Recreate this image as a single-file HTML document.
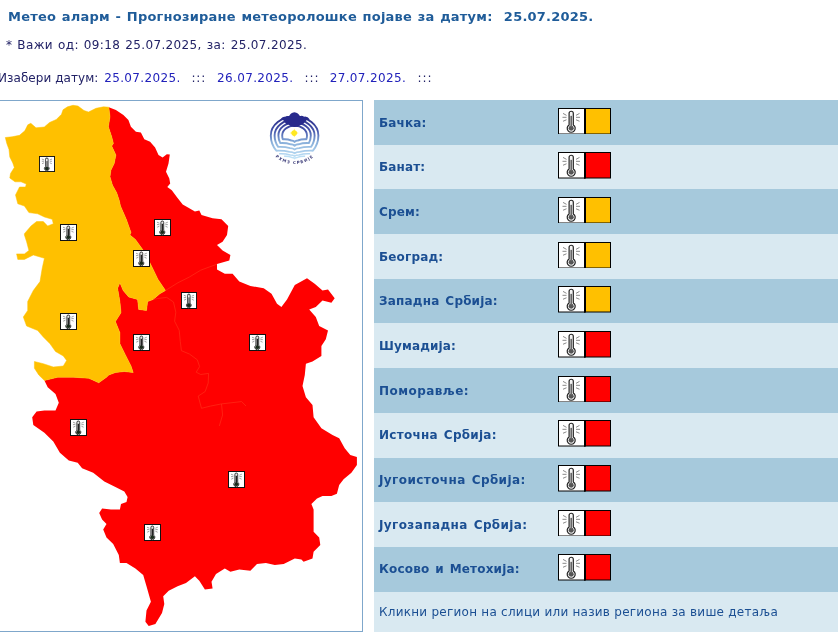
<!DOCTYPE html>
<html lang="sr"><head><meta charset="utf-8"><title>Метео аларм</title>
<style>
html,body{margin:0;padding:0;background:#fff;}
body{width:838px;height:633px;overflow:hidden;position:relative;font-family:"DejaVu Sans","Liberation Sans",sans-serif;font-size:12px;color:#222266;}
.t{position:absolute;white-space:nowrap;line-height:16px;}
#title{left:8px;top:9px;font-size:13px;font-weight:bold;color:#1f5c99;letter-spacing:0.22px;word-spacing:0.9px;}
#valid{left:6px;top:37px;letter-spacing:0.37px;word-spacing:0.8px;}
#pick{left:0;top:70px;}
#pick span,#pick a{position:absolute;top:0;}
#pick a{color:#2222bb;text-decoration:none;}
#mapbox{position:absolute;left:-10px;top:100px;width:373px;height:532px;border:1px solid #7fa7cb;box-sizing:border-box;background:#fff;}
#map{position:absolute;left:0;top:0;}
.th{position:absolute;}
#tbl{position:absolute;left:374px;top:100px;width:480px;}
.row{position:relative;height:44.7px;}
.row.d{background:#a6c9dc;}
.row.l{background:#d9e9f1;}
.row span{position:absolute;left:5px;top:14.6px;letter-spacing:0.15px;word-spacing:1.5px;line-height:16px;font-weight:bold;color:#1b4f93;white-space:nowrap;font-size:12px;}
.row .lg{position:absolute;left:184px;top:7.6px;height:26.5px;}
#foot{position:relative;height:40px;background:#d9e9f1;}
#foot span{position:absolute;left:5px;top:12.5px;letter-spacing:0.25px;line-height:16px;color:#1b4f93;white-space:nowrap;}
</style></head><body>
<div id="title" class="t">Метео аларм - Прогнозиране метеоролошке појаве за датум:&nbsp; 25.07.2025.</div>
<div id="valid" class="t">* Важи од: 09:18 25.07.2025, за: 25.07.2025.</div>
<div id="pick" class="t"><span style="left:-2px;letter-spacing:0.07px">Изабери датум:</span><a style="left:104.2px;letter-spacing:0.36px">25.07.2025.</a><span style="left:191.4px;letter-spacing:0.9px">:::</span><a style="left:217px;letter-spacing:0.36px">26.07.2025.</a><span style="left:304.6px;letter-spacing:0.9px">:::</span><a style="left:329.7px;letter-spacing:0.36px">27.07.2025.</a><span style="left:417.6px;letter-spacing:0.9px">:::</span></div>
<div id="mapbox"></div>
<svg id="map" width="372" height="633" viewBox="0 0 372 633">
<polygon points="108.8,107.2 115.9,110 123.4,115 128.4,120 130.9,126.700 135.900,131.700 140.900,132.600 144.300,139.300 150.100,141.800 155.100,147.600 158.500,155.100 162.600,157.600 166.800,154.300 169.800,154.600 168.500,163.500 166,171.800 169.300,178.500 170.200,183.500 167.300,186.900 171.800,190.200 176.800,196.900 182.700,204.400 188,207.500 194.9,211.5 199.3,210.4 201.5,214.9 212.6,218.2 221.5,219.3 228.2,226 227,235 222.6,241.7 217,245 222.6,250.5 230.4,255 229.3,260.5 217,263.9 217,269.4 224.8,273.8 232.6,273.8 239.3,281.6 250.4,286 263.7,288.3 271.5,293.8 277,303.8 281.4,307 287,299.4 294.8,285 307,278.3 314.7,283.8 322.5,290.5 328,289.4 334.7,298.3 331.4,302.7 322.5,300.5 315.8,307 309.2,309.4 315.8,317 319.2,326 328,330.5 325.8,339.3 321.4,346 321.4,356 312.5,361.5 305.9,363.7 304.8,375 302.5,386 305.9,397.2 312.5,405 313.6,417.2 321.4,428.3 332.5,435 339.2,438.3 344.7,448.3 350.3,455 356.9,457 356.9,465 351.4,472.7 343.6,479.3 339.2,485 336.9,493.8 331.4,496 322.5,496 317,498.5 311.4,504 313.6,509.6 313.6,531.8 319.2,537.4 320.3,545 313.6,551.8 312.5,558.5 303.6,561.8 301.4,559.6 294.8,558.5 283.7,564 274.8,565 265.9,563 257,564 250.4,570.7 239.3,569.6 230.4,571.8 224.8,568.5 216,574 211.5,581.8 212.6,588.5 204.9,589.6 199.3,580.7 194.9,576.2 186,583 177.6,586.2 168.7,590.7 163.2,596.2 164.3,604 162,612.9 155.4,624 148.7,626 145.4,621.7 146.5,610.6 150.9,601.8 146.5,586.2 143.2,575 135.4,568.5 126.5,562.9 119.9,562.9 118.8,555 113.2,544 106.5,537.4 103.2,529.6 106.5,524 102.1,519.6 99.2,513 102.1,508.5 111,509.6 119.9,509.6 121,504 126.5,501.9 127.6,497 124.3,491.5 115.4,487 104.3,481.5 93.2,472.7 82.1,468.2 77.7,462.7 68.8,460.5 59.9,452.7 53.3,441.6 44.4,432.7 33.3,425 32.2,417.2 36.6,411.6 44.4,410.5 55.5,410.5 58.8,402.7 55.5,393.9 47.7,387.2 44.4,380.5 57.7,377.2 73.3,377.2 88.8,378.3 98.8,382.8 106.5,377.2 108.8,375 115.4,372.6 124.3,371.5 133.2,372.6 131,366 125.4,354.9 119.9,343.8 119.9,332.7 115.4,321.6 121,312.7 119.9,301.6 117.6,288.3 119.9,282.7 123.2,290.5 128.7,297 137.6,299.4 138.7,309.4 146.5,310.5 147.6,301.6 153.2,299.4 159.8,293.8 165.5,290.5 158,279.4 151.5,266 144.5,252 135.4,239.4 129.9,235 131,232.5 126.3,219.3 120.500,206 119.200,200.200 116.700,192.700 112.500,185.200 110,176.800 110.900,170.200 114.200,163.500 115.900,155.100 111.700,146 113.400,143.400 111.700,136.800 108.400,126.700 110,116.700" fill="#FF0000"/>
<polygon points="108.8,107.2 103.5,106.8 96,108.3 88.5,112 84,110.5 78,106 73,105.3 67.5,106.8 63,109.8 61.5,114.3 56.3,119.5 49.5,122.5 44.3,127 36,127.8 30.8,123.3 27.8,124.8 24.8,130.8 19.5,135.3 12,136.8 5.3,137.5 6.8,143.5 9,149.5 9.8,157 12.8,163 14.3,167.5 10.5,173.5 9.8,178 15,181.8 21,181.8 26.3,184 25.5,187 19.5,187 16.5,193 15.5,195 17.8,203.8 24.4,206 28.9,212.6 37.7,213.8 44.4,217 52.2,219.3 53.3,223.7 47.7,226 43.3,221.5 36.6,221.5 31,226 24.4,233.7 24.4,235 26.6,241.7 28.9,250.5 24.4,253.9 16.6,253.9 17.8,259.4 24.4,259.4 33.3,255 44.4,258.3 42.2,268.3 40,281.6 33.3,290.5 27.7,301.6 27.7,310.5 23.3,317 26.6,326 37.7,330.5 43.3,337 50,343.8 55.5,351.5 63.3,356 66.6,360.4 63.3,366 53.3,367 43.3,363.7 34.4,361.5 34.4,368.2 38.8,375 44.4,380.5 57.7,377.2 73.3,377.2 88.8,378.3 98.8,382.8 106.5,377.2 108.8,375 115.4,372.6 124.3,371.5 133.2,372.6 131,366 125.4,354.9 119.9,343.8 119.9,332.7 115.4,321.6 121,312.7 119.9,301.6 117.6,288.3 119.9,282.7 123.2,290.5 128.7,297 137.6,299.4 138.7,309.4 146.5,310.5 147.6,301.6 153.2,299.4 159.8,293.8 165.5,290.5 158,279.4 151.5,266 144.5,252 135.4,239.4 129.9,235 131,232.5 126.3,219.3 120.500,206 119.200,200.200 116.700,192.700 112.500,185.200 110,176.800 110.900,170.200 114.200,163.500 115.900,155.100 111.700,146 113.400,143.400 111.700,136.800 108.400,126.700 110,116.700" fill="#FFC000" stroke="#FFC000" stroke-width="0.5"/>
<g fill="none" stroke="#ff2e18" stroke-width="0.7" stroke-linejoin="round">
<polyline points="165.500,290.500 178,282.700 189.400,277 200.700,270.200 209.800,266.800 217,264.200"/>
<polyline points="153.200,299.400 157.600,298.500 166.700,297.400 173.500,302 175.800,312.200 174.600,321.200 179.200,330.300 180.300,341.600 181.400,350.700 189.400,354 197.300,359.800 199.600,366.600 196.200,372.200 200.700,374.500 208.600,373.400 208.200,383 205.200,391.500 198.200,396.100 201.500,408.300 210.400,406.100 221.500,403.900 222.600,415 219.300,426"/>
<polyline points="221.500,403.900 241.500,401.600 246,406"/>
</g>
<defs><linearGradient id="lg1" gradientUnits="userSpaceOnUse" x1="0" y1="114" x2="0" y2="159"><stop offset="0" stop-color="#24247f"/><stop offset="0.35" stop-color="#4250a8"/><stop offset="0.62" stop-color="#86add9"/><stop offset="1" stop-color="#c4e6f9"/></linearGradient>
<path id="tp" d="M274.03 155.37 A28.6 28.6 0 0 0 315.17 155.37" fill="none"/></defs>
<g fill="none" stroke="url(#lg1)" stroke-width="1.900" stroke-linejoin="round">
<path d="M276.29 150.70 A23.8 23.8 0 0 1 270.80 135.50 A23.8 19.04 0 0 1 318.40 135.50 A23.8 23.8 0 0 1 312.91 150.70 Q305.59 150.40 299.73 151.90 Q296.43 151.90 294.60 153.30 Q292.77 151.90 289.47 151.90 Q283.61 150.40 276.29 150.70Z"/><path d="M278.17 146.90 A20.0 20.0 0 0 1 274.60 135.50 A20.0 16.00 0 0 1 314.60 135.50 A20.0 20.0 0 0 1 311.03 146.90 Q304.46 146.60 299.20 148.10 Q296.24 148.10 294.60 149.50 Q292.96 148.10 290.00 148.10 Q284.74 146.60 278.17 146.90Z"/><path d="M280.29 143.10 A16.2 16.2 0 0 1 278.40 135.50 A16.2 12.96 0 0 1 310.80 135.50 A16.2 16.2 0 0 1 308.91 143.10 Q303.18 142.80 298.61 144.30 Q296.03 144.30 294.60 145.70 Q293.17 144.30 290.59 144.30 Q286.02 142.80 280.29 143.10Z"/><path d="M282.80 139.30 A12.4 12.4 0 0 1 282.20 135.50 A12.4 9.92 0 0 1 307.00 135.50 A12.4 12.4 0 0 1 306.40 139.30 Q301.68 139.00 297.90 140.50 Q295.78 140.50 294.60 141.90 Q293.42 140.50 291.30 140.50 Q287.52 139.00 282.80 139.30Z"/>
<g stroke-width="1.500"><path d="M279.10 153.80 Q285.30 153.50 290.26 155.00 Q293.05 155.00 294.60 156.20 Q296.15 155.00 298.94 155.00 Q303.90 153.50 310.10 153.80"/><path d="M284.10 156.20 Q288.30 155.90 291.66 157.40 Q293.55 157.40 294.60 158.60 Q295.65 157.40 297.54 157.40 Q300.90 155.90 305.10 156.20"/></g></g>
<path d="M280.800 119.200 Q282 116.200 285.200 116.800 Q287 115.400 289.200 116.200 Q290.300 112.900 294.400 112.200 Q298.600 112.900 299.800 116.200 Q302 115.300 304 116.700 Q307.500 116 309.800 119.400 Q306.500 119.200 305.200 121.600 Q303.800 124.600 300.200 125.200 Q297.500 127.300 293.800 127 Q290.500 126.700 288.500 124.600 Q285.500 124 284.300 121.400 Q283.200 119.200 280.800 119.200Z" fill="#282a8c"/>
<g fill="#ffe822"><circle cx="294.200" cy="133.100" r="2.800"/><path d="M294.200 128.600 L295.200 132.100 L298.700 133.100 L295.200 134.100 L294.200 137.600 L293.200 134.100 L289.700 133.100 L293.200 132.100Z"/></g>
<text font-family="'DejaVu Sans','Liberation Sans',sans-serif" font-size="4" font-weight="bold" fill="#3b3b78" letter-spacing="1"><textPath href="#tp" startOffset="50%" text-anchor="middle">РХМЗ СРБИЈЕ</textPath></text>
</svg>
<svg class="th" style="left:39px;top:156px" viewBox="0 0 17 17" width="16" height="16" preserveAspectRatio="none"><rect x="0.5" y="0.5" width="16" height="16" fill="#fff" stroke="#111"/><path d="M6.900 3.400a1.400 1.400 0 0 1 2.800 0V11.200a2.500 2.500 0 1 1-2.800 0Z" fill="#8a8a8a" stroke="#444" stroke-width="0.9"/><rect x="7.600" y="3.200" width="1.400" height="2.200" fill="#fff"/><circle cx="8.300" cy="13.200" r="1.900" fill="#1a2a1a"/><g stroke="#8a8a8a" stroke-width="0.8" fill="none"><path d="M3 3.200l2.400 1M3 5.600h2.400M3.200 8.200l2.200-1M13.800 3.200l-2.400 1M13.800 5.600h-2.400M13.600 8.200l-2.200-1"/></g></svg>
<svg class="th" style="left:60px;top:224px" viewBox="0 0 17 17" width="17" height="17"><rect x="0.5" y="0.5" width="16" height="16" fill="#fff" stroke="#111"/><path d="M6.900 3.400a1.400 1.400 0 0 1 2.800 0V11.200a2.500 2.500 0 1 1-2.800 0Z" fill="#e8e8e8" stroke="#222" stroke-width="0.9"/><rect x="7.700" y="4.800" width="1.300" height="7.500" fill="#222"/><circle cx="8.300" cy="13.200" r="1.900" fill="#1a2a1a"/><g stroke="#8a8a8a" stroke-width="0.8" fill="none"><path d="M3 3.200l2.400 1M3 5.600h2.400M3.200 8.200l2.200-1M13.800 3.200l-2.400 1M13.800 5.600h-2.400M13.600 8.200l-2.200-1"/></g></svg>
<svg class="th" style="left:133px;top:250px" viewBox="0 0 17 17" width="17" height="17"><rect x="0.5" y="0.5" width="16" height="16" fill="#fff" stroke="#111"/><path d="M6.900 3.400a1.400 1.400 0 0 1 2.800 0V11.200a2.500 2.500 0 1 1-2.800 0Z" fill="#e8e8e8" stroke="#222" stroke-width="0.9"/><rect x="7.700" y="4.800" width="1.300" height="7.500" fill="#222"/><circle cx="8.300" cy="13.200" r="1.900" fill="#1a2a1a"/><g stroke="#8a8a8a" stroke-width="0.8" fill="none"><path d="M3 3.200l2.400 1M3 5.600h2.400M3.200 8.200l2.200-1M13.800 3.200l-2.400 1M13.800 5.600h-2.400M13.600 8.200l-2.200-1"/></g></svg>
<svg class="th" style="left:154px;top:219px" viewBox="0 0 17 17" width="17" height="17"><rect x="0.5" y="0.5" width="16" height="16" fill="#fff" stroke="#111"/><path d="M6.900 3.400a1.400 1.400 0 0 1 2.800 0V11.200a2.500 2.500 0 1 1-2.800 0Z" fill="#e8e8e8" stroke="#222" stroke-width="0.9"/><rect x="7.700" y="4.800" width="1.300" height="7.500" fill="#222"/><circle cx="8.300" cy="13.200" r="1.900" fill="#1a2a1a"/><g stroke="#8a8a8a" stroke-width="0.8" fill="none"><path d="M3 3.200l2.400 1M3 5.600h2.400M3.200 8.200l2.200-1M13.800 3.200l-2.400 1M13.800 5.600h-2.400M13.600 8.200l-2.200-1"/></g></svg>
<svg class="th" style="left:181px;top:292px" viewBox="0 0 17 17" width="16" height="17" preserveAspectRatio="none"><rect x="0.5" y="0.5" width="16" height="16" fill="#fff" stroke="#111"/><path d="M6.900 3.400a1.400 1.400 0 0 1 2.800 0V11.200a2.500 2.500 0 1 1-2.800 0Z" fill="#8a8a8a" stroke="#444" stroke-width="0.9"/><rect x="7.600" y="3.200" width="1.400" height="2.200" fill="#fff"/><circle cx="8.300" cy="13.200" r="1.900" fill="#1a2a1a"/><g stroke="#8a8a8a" stroke-width="0.8" fill="none"><path d="M3 3.200l2.400 1M3 5.600h2.400M3.200 8.200l2.200-1M13.800 3.200l-2.400 1M13.800 5.600h-2.400M13.600 8.200l-2.200-1"/></g></svg>
<svg class="th" style="left:60px;top:313px" viewBox="0 0 17 17" width="17" height="17"><rect x="0.5" y="0.5" width="16" height="16" fill="#fff" stroke="#111"/><path d="M6.900 3.400a1.400 1.400 0 0 1 2.800 0V11.200a2.500 2.500 0 1 1-2.800 0Z" fill="#e8e8e8" stroke="#222" stroke-width="0.9"/><rect x="7.700" y="4.800" width="1.300" height="7.500" fill="#222"/><circle cx="8.300" cy="13.200" r="1.900" fill="#1a2a1a"/><g stroke="#8a8a8a" stroke-width="0.8" fill="none"><path d="M3 3.200l2.400 1M3 5.600h2.400M3.200 8.200l2.200-1M13.800 3.200l-2.400 1M13.800 5.600h-2.400M13.600 8.200l-2.200-1"/></g></svg>
<svg class="th" style="left:133px;top:334px" viewBox="0 0 17 17" width="17" height="17"><rect x="0.5" y="0.5" width="16" height="16" fill="#fff" stroke="#111"/><path d="M6.900 3.400a1.400 1.400 0 0 1 2.800 0V11.200a2.500 2.500 0 1 1-2.800 0Z" fill="#e8e8e8" stroke="#222" stroke-width="0.9"/><rect x="7.700" y="4.800" width="1.300" height="7.500" fill="#222"/><circle cx="8.300" cy="13.200" r="1.900" fill="#1a2a1a"/><g stroke="#8a8a8a" stroke-width="0.8" fill="none"><path d="M3 3.200l2.400 1M3 5.600h2.400M3.200 8.200l2.200-1M13.800 3.200l-2.400 1M13.800 5.600h-2.400M13.600 8.200l-2.200-1"/></g></svg>
<svg class="th" style="left:249px;top:334px" viewBox="0 0 17 17" width="17" height="17"><rect x="0.5" y="0.5" width="16" height="16" fill="#fff" stroke="#111"/><path d="M6.900 3.400a1.400 1.400 0 0 1 2.800 0V11.200a2.500 2.500 0 1 1-2.800 0Z" fill="#e8e8e8" stroke="#222" stroke-width="0.9"/><rect x="7.700" y="4.800" width="1.300" height="7.500" fill="#222"/><circle cx="8.300" cy="13.200" r="1.900" fill="#1a2a1a"/><g stroke="#8a8a8a" stroke-width="0.8" fill="none"><path d="M3 3.200l2.400 1M3 5.600h2.400M3.200 8.200l2.200-1M13.800 3.200l-2.400 1M13.800 5.600h-2.400M13.600 8.200l-2.200-1"/></g></svg>
<svg class="th" style="left:70px;top:419px" viewBox="0 0 17 17" width="17" height="17"><rect x="0.5" y="0.5" width="16" height="16" fill="#fff" stroke="#111"/><path d="M6.900 3.400a1.400 1.400 0 0 1 2.800 0V11.200a2.500 2.500 0 1 1-2.800 0Z" fill="#e8e8e8" stroke="#222" stroke-width="0.9"/><rect x="7.700" y="4.800" width="1.300" height="7.500" fill="#222"/><circle cx="8.300" cy="13.200" r="1.900" fill="#1a2a1a"/><g stroke="#8a8a8a" stroke-width="0.8" fill="none"><path d="M3 3.200l2.400 1M3 5.600h2.400M3.200 8.200l2.200-1M13.800 3.200l-2.400 1M13.800 5.600h-2.400M13.600 8.200l-2.200-1"/></g></svg>
<svg class="th" style="left:228px;top:471px" viewBox="0 0 17 17" width="17" height="17"><rect x="0.5" y="0.5" width="16" height="16" fill="#fff" stroke="#111"/><path d="M6.900 3.400a1.400 1.400 0 0 1 2.800 0V11.200a2.500 2.500 0 1 1-2.800 0Z" fill="#e8e8e8" stroke="#222" stroke-width="0.9"/><rect x="7.700" y="4.800" width="1.300" height="7.500" fill="#222"/><circle cx="8.300" cy="13.200" r="1.900" fill="#1a2a1a"/><g stroke="#8a8a8a" stroke-width="0.8" fill="none"><path d="M3 3.200l2.400 1M3 5.600h2.400M3.200 8.200l2.200-1M13.800 3.200l-2.400 1M13.800 5.600h-2.400M13.600 8.200l-2.200-1"/></g></svg>
<svg class="th" style="left:144px;top:524px" viewBox="0 0 17 17" width="17" height="17"><rect x="0.5" y="0.5" width="16" height="16" fill="#fff" stroke="#111"/><path d="M6.900 3.400a1.400 1.400 0 0 1 2.800 0V11.200a2.500 2.500 0 1 1-2.800 0Z" fill="#e8e8e8" stroke="#222" stroke-width="0.9"/><rect x="7.700" y="4.800" width="1.300" height="7.500" fill="#222"/><circle cx="8.300" cy="13.200" r="1.900" fill="#1a2a1a"/><g stroke="#8a8a8a" stroke-width="0.8" fill="none"><path d="M3 3.200l2.400 1M3 5.600h2.400M3.200 8.200l2.200-1M13.800 3.200l-2.400 1M13.800 5.600h-2.400M13.600 8.200l-2.200-1"/></g></svg>
<div id="tbl">
<div class="row d"><span style="letter-spacing:0.15px">Бачка:</span><svg class="lg" viewBox="0 0 53 27" width="53" height="27" preserveAspectRatio="none"><rect x="0.5" y="0.5" width="26" height="26" fill="#fff" stroke="#000"/><rect x="26.5" y="0.5" width="26" height="26" fill="#FFC000" stroke="#000"/><rect x="26" y="0" width="2" height="27" fill="#000"/>
<path d="M11.100 5.400a2.100 2.100 0 0 1 4.200 0V17.300a4 4 0 1 1-4.200 0Z" fill="#f4f4f4" stroke="#222" stroke-width="1.200"/><circle cx="13.200" cy="20.700" r="2.500" fill="#555"/><rect x="12.400" y="8" width="1.600" height="11.500" fill="#666"/>
<g stroke="#888" stroke-width="1" fill="none"><path d="M5 5.5l3.5 2M4.5 9.5h4M5 13.5l3.5-1.5M21.500 5.5l-3.5 2M22 9.500h-4M21.500 13.500l-3.500-1.500"/></g></svg></div>
<div class="row l"><span style="letter-spacing:0.15px">Банат:</span><svg class="lg" viewBox="0 0 53 27" width="53" height="27" preserveAspectRatio="none"><rect x="0.5" y="0.5" width="26" height="26" fill="#fff" stroke="#000"/><rect x="26.5" y="0.5" width="26" height="26" fill="#FF0000" stroke="#000"/><rect x="26" y="0" width="2" height="27" fill="#000"/>
<path d="M11.100 5.400a2.100 2.100 0 0 1 4.200 0V17.300a4 4 0 1 1-4.200 0Z" fill="#f4f4f4" stroke="#222" stroke-width="1.200"/><circle cx="13.200" cy="20.700" r="2.500" fill="#555"/><rect x="12.400" y="8" width="1.600" height="11.500" fill="#666"/>
<g stroke="#888" stroke-width="1" fill="none"><path d="M5 5.5l3.5 2M4.5 9.5h4M5 13.5l3.5-1.5M21.500 5.5l-3.5 2M22 9.500h-4M21.500 13.500l-3.500-1.500"/></g></svg></div>
<div class="row d"><span style="letter-spacing:0.15px">Срем:</span><svg class="lg" viewBox="0 0 53 27" width="53" height="27" preserveAspectRatio="none"><rect x="0.5" y="0.5" width="26" height="26" fill="#fff" stroke="#000"/><rect x="26.5" y="0.5" width="26" height="26" fill="#FFC000" stroke="#000"/><rect x="26" y="0" width="2" height="27" fill="#000"/>
<path d="M11.100 5.400a2.100 2.100 0 0 1 4.200 0V17.300a4 4 0 1 1-4.200 0Z" fill="#f4f4f4" stroke="#222" stroke-width="1.200"/><circle cx="13.200" cy="20.700" r="2.500" fill="#555"/><rect x="12.400" y="8" width="1.600" height="11.500" fill="#666"/>
<g stroke="#888" stroke-width="1" fill="none"><path d="M5 5.5l3.5 2M4.5 9.5h4M5 13.5l3.5-1.5M21.500 5.5l-3.5 2M22 9.500h-4M21.500 13.500l-3.500-1.500"/></g></svg></div>
<div class="row l"><span style="letter-spacing:0.15px">Београд:</span><svg class="lg" viewBox="0 0 53 27" width="53" height="27" preserveAspectRatio="none"><rect x="0.5" y="0.5" width="26" height="26" fill="#fff" stroke="#000"/><rect x="26.5" y="0.5" width="26" height="26" fill="#FFC000" stroke="#000"/><rect x="26" y="0" width="2" height="27" fill="#000"/>
<path d="M11.100 5.400a2.100 2.100 0 0 1 4.200 0V17.300a4 4 0 1 1-4.200 0Z" fill="#f4f4f4" stroke="#222" stroke-width="1.200"/><circle cx="13.200" cy="20.700" r="2.500" fill="#555"/><rect x="12.400" y="8" width="1.600" height="11.500" fill="#666"/>
<g stroke="#888" stroke-width="1" fill="none"><path d="M5 5.5l3.5 2M4.5 9.5h4M5 13.5l3.5-1.5M21.500 5.5l-3.5 2M22 9.500h-4M21.500 13.500l-3.500-1.500"/></g></svg></div>
<div class="row d"><span style="letter-spacing:0.2px">Западна Србија:</span><svg class="lg" viewBox="0 0 53 27" width="53" height="27" preserveAspectRatio="none"><rect x="0.5" y="0.5" width="26" height="26" fill="#fff" stroke="#000"/><rect x="26.5" y="0.5" width="26" height="26" fill="#FFC000" stroke="#000"/><rect x="26" y="0" width="2" height="27" fill="#000"/>
<path d="M11.100 5.400a2.100 2.100 0 0 1 4.200 0V17.300a4 4 0 1 1-4.200 0Z" fill="#f4f4f4" stroke="#222" stroke-width="1.200"/><circle cx="13.200" cy="20.700" r="2.500" fill="#555"/><rect x="12.400" y="8" width="1.600" height="11.500" fill="#666"/>
<g stroke="#888" stroke-width="1" fill="none"><path d="M5 5.5l3.5 2M4.5 9.5h4M5 13.5l3.5-1.5M21.500 5.5l-3.5 2M22 9.500h-4M21.500 13.500l-3.500-1.500"/></g></svg></div>
<div class="row l"><span style="letter-spacing:0.15px">Шумадија:</span><svg class="lg" viewBox="0 0 53 27" width="53" height="27" preserveAspectRatio="none"><rect x="0.5" y="0.5" width="26" height="26" fill="#fff" stroke="#000"/><rect x="26.5" y="0.5" width="26" height="26" fill="#FF0000" stroke="#000"/><rect x="26" y="0" width="2" height="27" fill="#000"/>
<path d="M11.100 5.400a2.100 2.100 0 0 1 4.200 0V17.300a4 4 0 1 1-4.200 0Z" fill="#f4f4f4" stroke="#222" stroke-width="1.200"/><circle cx="13.200" cy="20.700" r="2.500" fill="#555"/><rect x="12.400" y="8" width="1.600" height="11.500" fill="#666"/>
<g stroke="#888" stroke-width="1" fill="none"><path d="M5 5.5l3.5 2M4.5 9.5h4M5 13.5l3.5-1.5M21.500 5.5l-3.5 2M22 9.500h-4M21.500 13.500l-3.500-1.500"/></g></svg></div>
<div class="row d"><span style="letter-spacing:0.46px">Поморавље:</span><svg class="lg" viewBox="0 0 53 27" width="53" height="27" preserveAspectRatio="none"><rect x="0.5" y="0.5" width="26" height="26" fill="#fff" stroke="#000"/><rect x="26.5" y="0.5" width="26" height="26" fill="#FF0000" stroke="#000"/><rect x="26" y="0" width="2" height="27" fill="#000"/>
<path d="M11.100 5.400a2.100 2.100 0 0 1 4.200 0V17.300a4 4 0 1 1-4.200 0Z" fill="#f4f4f4" stroke="#222" stroke-width="1.200"/><circle cx="13.200" cy="20.700" r="2.500" fill="#555"/><rect x="12.400" y="8" width="1.600" height="11.500" fill="#666"/>
<g stroke="#888" stroke-width="1" fill="none"><path d="M5 5.5l3.5 2M4.5 9.5h4M5 13.5l3.5-1.5M21.500 5.5l-3.5 2M22 9.500h-4M21.500 13.500l-3.500-1.500"/></g></svg></div>
<div class="row l"><span style="letter-spacing:0.27px">Источна Србија:</span><svg class="lg" viewBox="0 0 53 27" width="53" height="27" preserveAspectRatio="none"><rect x="0.5" y="0.5" width="26" height="26" fill="#fff" stroke="#000"/><rect x="26.5" y="0.5" width="26" height="26" fill="#FF0000" stroke="#000"/><rect x="26" y="0" width="2" height="27" fill="#000"/>
<path d="M11.100 5.400a2.100 2.100 0 0 1 4.200 0V17.300a4 4 0 1 1-4.200 0Z" fill="#f4f4f4" stroke="#222" stroke-width="1.200"/><circle cx="13.200" cy="20.700" r="2.500" fill="#555"/><rect x="12.400" y="8" width="1.600" height="11.500" fill="#666"/>
<g stroke="#888" stroke-width="1" fill="none"><path d="M5 5.5l3.5 2M4.5 9.5h4M5 13.5l3.5-1.5M21.500 5.5l-3.5 2M22 9.500h-4M21.500 13.500l-3.500-1.500"/></g></svg></div>
<div class="row d"><span style="letter-spacing:0.41px">Југоисточна Србија:</span><svg class="lg" viewBox="0 0 53 27" width="53" height="27" preserveAspectRatio="none"><rect x="0.5" y="0.5" width="26" height="26" fill="#fff" stroke="#000"/><rect x="26.5" y="0.5" width="26" height="26" fill="#FF0000" stroke="#000"/><rect x="26" y="0" width="2" height="27" fill="#000"/>
<path d="M11.100 5.400a2.100 2.100 0 0 1 4.200 0V17.300a4 4 0 1 1-4.200 0Z" fill="#f4f4f4" stroke="#222" stroke-width="1.200"/><circle cx="13.200" cy="20.700" r="2.500" fill="#555"/><rect x="12.400" y="8" width="1.600" height="11.500" fill="#666"/>
<g stroke="#888" stroke-width="1" fill="none"><path d="M5 5.5l3.5 2M4.5 9.5h4M5 13.5l3.5-1.5M21.500 5.5l-3.5 2M22 9.500h-4M21.500 13.500l-3.500-1.500"/></g></svg></div>
<div class="row l"><span style="letter-spacing:0.39px">Југозападна Србија:</span><svg class="lg" viewBox="0 0 53 27" width="53" height="27" preserveAspectRatio="none"><rect x="0.5" y="0.5" width="26" height="26" fill="#fff" stroke="#000"/><rect x="26.5" y="0.5" width="26" height="26" fill="#FF0000" stroke="#000"/><rect x="26" y="0" width="2" height="27" fill="#000"/>
<path d="M11.100 5.400a2.100 2.100 0 0 1 4.200 0V17.300a4 4 0 1 1-4.200 0Z" fill="#f4f4f4" stroke="#222" stroke-width="1.200"/><circle cx="13.200" cy="20.700" r="2.500" fill="#555"/><rect x="12.400" y="8" width="1.600" height="11.500" fill="#666"/>
<g stroke="#888" stroke-width="1" fill="none"><path d="M5 5.5l3.5 2M4.5 9.5h4M5 13.5l3.5-1.5M21.500 5.5l-3.5 2M22 9.500h-4M21.500 13.500l-3.500-1.500"/></g></svg></div>
<div class="row d"><span style="letter-spacing:0.18px">Косово и Метохија:</span><svg class="lg" viewBox="0 0 53 27" width="53" height="27" preserveAspectRatio="none"><rect x="0.5" y="0.5" width="26" height="26" fill="#fff" stroke="#000"/><rect x="26.5" y="0.5" width="26" height="26" fill="#FF0000" stroke="#000"/><rect x="26" y="0" width="2" height="27" fill="#000"/>
<path d="M11.100 5.400a2.100 2.100 0 0 1 4.200 0V17.300a4 4 0 1 1-4.200 0Z" fill="#f4f4f4" stroke="#222" stroke-width="1.200"/><circle cx="13.200" cy="20.700" r="2.500" fill="#555"/><rect x="12.400" y="8" width="1.600" height="11.500" fill="#666"/>
<g stroke="#888" stroke-width="1" fill="none"><path d="M5 5.5l3.5 2M4.5 9.5h4M5 13.5l3.5-1.5M21.500 5.5l-3.5 2M22 9.500h-4M21.500 13.500l-3.500-1.500"/></g></svg></div>
<div id="foot"><span>Кликни регион на слици или назив региона за више детаља</span></div>
</div>
</body></html>
